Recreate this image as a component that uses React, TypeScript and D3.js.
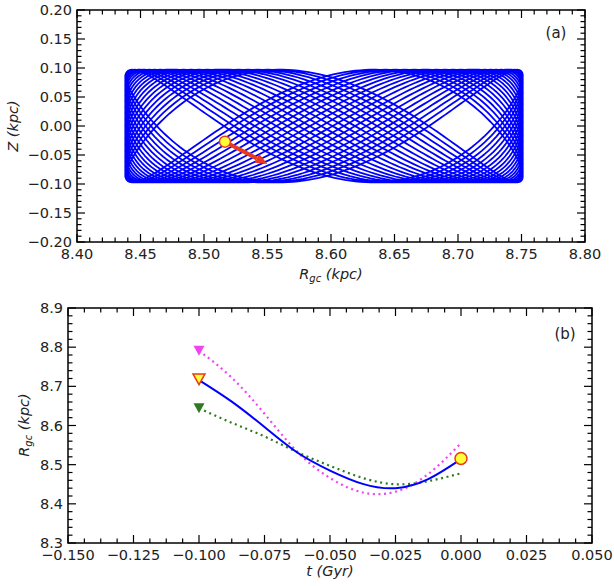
import React from 'react';
import * as d3 from 'd3';

const W = 614;
const H = 586;

// ---------- Panel (a) ----------
const aXTicks = [8.40, 8.45, 8.50, 8.55, 8.60, 8.65, 8.70, 8.75, 8.80];
const aYTicks = [-0.20, -0.15, -0.10, -0.05, 0.00, 0.05, 0.10, 0.15, 0.20];
// orbit (meridional plane) parameters
const orbitRLimits = [8.438, 8.751];
const orbitZAmplitude = 0.097;
const orbitFreqRatio = 2.0183; // vertical / radial frequency
const orbitCycles = 20;
const orbitPhase0 = 0.42;
const nowPoint = [8.5165, -0.027];
const arrowTip = [8.550, -0.0655];

// ---------- Panel (b) ----------
const bXTicks = [-0.150, -0.125, -0.100, -0.075, -0.050, -0.025, 0.000, 0.025, 0.050];
const bYTicks = [8.3, 8.4, 8.5, 8.6, 8.7, 8.8, 8.9];
const tGyr = [-0.1, -0.0875, -0.075, -0.0625, -0.05, -0.0375, -0.025, -0.0125, 0];
const rBlue = [8.716, 8.661, 8.596, 8.531, 8.485, 8.451, 8.440, 8.463, 8.514];
const rMagenta = [8.791, 8.722, 8.630, 8.533, 8.466, 8.429, 8.431, 8.476, 8.555];
const rGreen = [8.644, 8.607, 8.572, 8.532, 8.497, 8.466, 8.450, 8.458, 8.478];
const startBlue = [-0.1, 8.718];
const startMagenta = [-0.1, 8.791];
const startGreen = [-0.1, 8.644];
const nowB = [0, 8.516];

const FONT = 'DejaVu Sans, sans-serif';
const FS = 14.5;
const BLUE = '#0000ff';
const MAGENTA = '#f044f0';
const GREEN = '#2f7a20';
const RED = '#e83a1e';
const YELLOW = '#ffff3a';

const fmt = (v: number, d: number) => {
  const s = Math.abs(v).toFixed(d);
  return (v < 0 && parseFloat(s) !== 0 ? '\u2212' : '') + s;
};

function minorTicks(major: number[], n: number) {
  const out: number[] = [];
  for (let i = 0; i < major.length - 1; i++) {
    const step = (major[i + 1] - major[i]) / (n + 1);
    for (let k = 1; k <= n; k++) out.push(major[i] + step * k);
  }
  return out;
}

function Frame({ x, y, xt, yt, xm, ym, xd, yd }: any) {
  const [x0, x1] = x.range();
  const [y0, y1] = y.range(); // y0 bottom, y1 top
  const ML = 8, mL = 4.5;
  const els: any[] = [];
  xt.forEach((v: number, i: number) => {
    const px = x(v);
    els.push(<line key={'xb' + i} x1={px} x2={px} y1={y0} y2={y0 - ML} />);
    els.push(<line key={'xt' + i} x1={px} x2={px} y1={y1} y2={y1 + ML} />);
  });
  xm.forEach((v: number, i: number) => {
    const px = x(v);
    els.push(<line key={'xmb' + i} x1={px} x2={px} y1={y0} y2={y0 - mL} />);
    els.push(<line key={'xmt' + i} x1={px} x2={px} y1={y1} y2={y1 + mL} />);
  });
  yt.forEach((v: number, i: number) => {
    const py = y(v);
    els.push(<line key={'yl' + i} x1={x0} x2={x0 + ML} y1={py} y2={py} />);
    els.push(<line key={'yr' + i} x1={x1} x2={x1 - ML} y1={py} y2={py} />);
  });
  ym.forEach((v: number, i: number) => {
    const py = y(v);
    els.push(<line key={'yml' + i} x1={x0} x2={x0 + mL} y1={py} y2={py} />);
    els.push(<line key={'ymr' + i} x1={x1} x2={x1 - mL} y1={py} y2={py} />);
  });
  return (
    <g>
      <g stroke="#000" strokeWidth={1.2}>{els}</g>
      <rect x={x0} y={y1} width={x1 - x0} height={y0 - y1} fill="none" stroke="#000" strokeWidth={1.5} />
      <g fontFamily={FONT} fontSize={FS} fill="#222">
        {xt.map((v: number, i: number) => (
          <text key={'xl' + i} x={x(v)} y={y0 + 17} textAnchor="middle">{fmt(v, xd)}</text>
        ))}
        {yt.map((v: number, i: number) => (
          <text key={'yl' + i} x={x0 - 5} y={y(v) + 5} textAnchor="end">{fmt(v, yd)}</text>
        ))}
      </g>
    </g>
  );
}

function tri(cx: number, cy: number, s: number) {
  const h = s * 0.9;
  return `M${cx - s / 2},${cy - h / 2}L${cx + s / 2},${cy - h / 2}L${cx},${cy + h / 2}Z`;
}

export default function App() {
  // panel a scales
  const xa = d3.scaleLinear().domain([8.40, 8.80]).range([77, 585]);
  const ya = d3.scaleLinear().domain([-0.20, 0.20]).range([242, 10]);
  // panel b scales
  const xb = d3.scaleLinear().domain([-0.15, 0.05]).range([68, 592]);
  const yb = d3.scaleLinear().domain([8.3, 8.9]).range([543, 308]);

  // orbit
  const Rc = (orbitRLimits[0] + orbitRLimits[1]) / 2;
  const A = (orbitRLimits[1] - orbitRLimits[0]) / 2;
  const perCycle = 240;
  const steps = orbitCycles * perCycle;
  const orbit: [number, number][] = d3.range(steps + 1).map((i) => {
    const th = (i / perCycle) * 2 * Math.PI;
    return [Rc - A * Math.cos(th), orbitZAmplitude * Math.cos(orbitFreqRatio * th + orbitPhase0)];
  });
  const orbitPath = d3.line<[number, number]>().x((d) => xa(d[0])).y((d) => ya(d[1]))(orbit) || '';

  // arrow
  const ax0 = xa(nowPoint[0]), ay0 = ya(nowPoint[1]);
  const ax1 = xa(arrowTip[0]), ay1 = ya(arrowTip[1]);
  const dx = ax1 - ax0, dy = ay1 - ay0;
  const L = Math.hypot(dx, dy);
  const ux = dx / L, uy = dy / L;
  const hl = 12, hw = 5;
  const bx = ax1 - ux * hl, by = ay1 - uy * hl;
  const head = `M${ax1},${ay1}L${bx - uy * hw},${by + ux * hw}L${bx + uy * hw},${by - ux * hw}Z`;

  const lineB = d3.line<number>().x((_, i) => xb(tGyr[i])).y((d) => yb(d)).curve(d3.curveNatural);

  return (
    <svg width={W} height={H} style={{ position: 'absolute', left: 0, top: 0, background: '#fff' }}>
      <rect width={W} height={H} fill="#fff" />
      <defs>
        <clipPath id="clipA"><rect x={77} y={10} width={508} height={232} /></clipPath>
        <clipPath id="clipB"><rect x={68} y={308} width={524} height={235} /></clipPath>
      </defs>
      {/* Panel a */}
      <g clipPath="url(#clipA)">
        <path d={orbitPath} fill="none" stroke={BLUE} strokeWidth={1.8} strokeLinejoin="round" />
        <line x1={ax0} y1={ay0} x2={bx} y2={by} stroke={RED} strokeWidth={4} />
        <path d={head} fill={RED} />
        <circle cx={ax0} cy={ay0} r={5.5} fill={YELLOW} stroke={RED} strokeWidth={1.5} />
      </g>
      <Frame x={xa} y={ya} xt={aXTicks} yt={aYTicks} xm={minorTicks(aXTicks, 4)} ym={minorTicks(aYTicks, 4)} xd={2} yd={2} />
      <text x={556} y={38} fontFamily={FONT} fontSize={15} textAnchor="middle" fill="#222">(a)</text>
      <text x={331} y={279} fontFamily={FONT} fontSize={FS} fontStyle="italic" textAnchor="middle" fill="#222">
        R<tspan fontSize={10} dy={3}>gc</tspan><tspan dy={-3}> (kpc)</tspan>
      </text>
      <text transform={`translate(18,126) rotate(-90)`} fontFamily={FONT} fontSize={FS} fontStyle="italic" textAnchor="middle" fill="#222">
        Z (kpc)
      </text>

      {/* Panel b */}
      <g clipPath="url(#clipB)">
        <path d={lineB(rMagenta) || ''} fill="none" stroke={MAGENTA} strokeWidth={2.2} strokeDasharray="2 3.6" />
        <path d={lineB(rGreen) || ''} fill="none" stroke={GREEN} strokeWidth={2.2} strokeDasharray="2 3.6" />
        <path d={lineB(rBlue) || ''} fill="none" stroke={BLUE} strokeWidth={2} />
        <path d={tri(xb(startMagenta[0]), yb(startMagenta[1]), 11)} fill={MAGENTA} />
        <path d={tri(xb(startGreen[0]), yb(startGreen[1]), 11)} fill={GREEN} />
        <path d={tri(xb(startBlue[0]), yb(startBlue[1]), 12)} fill={YELLOW} stroke={RED} strokeWidth={1.5} />
        <circle cx={xb(nowB[0])} cy={yb(nowB[1])} r={6} fill={YELLOW} stroke={RED} strokeWidth={1.5} />
      </g>
      <Frame x={xb} y={yb} xt={bXTicks} yt={bYTicks} xm={minorTicks(bXTicks, 3)} ym={minorTicks(bYTicks, 4)} xd={3} yd={1} />
      <text x={565} y={339} fontFamily={FONT} fontSize={15} textAnchor="middle" fill="#222">(b)</text>
      <text x={330} y={576} fontFamily={FONT} fontSize={FS} fontStyle="italic" textAnchor="middle" fill="#222">
        t (Gyr)
      </text>
      <text transform={`translate(29,425) rotate(-90)`} fontFamily={FONT} fontSize={FS} fontStyle="italic" textAnchor="middle" fill="#222">
        R<tspan fontSize={10} dy={3}>gc</tspan><tspan dy={-3}> (kpc)</tspan>
      </text>
    </svg>
  );
}
